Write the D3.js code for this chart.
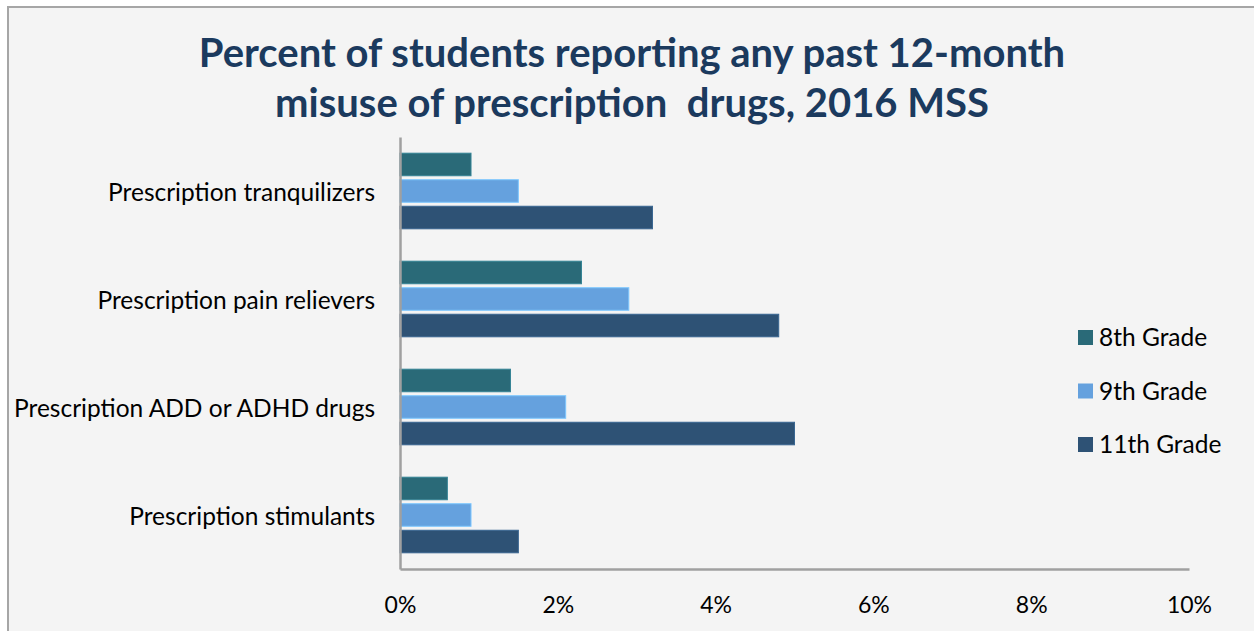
<!DOCTYPE html>
<html>
<head>
<meta charset="utf-8">
<script src="https://cdn.jsdelivr.net/npm/d3@7"></script>
<style>
  body { margin: 0; background: #fff; }
  svg { display: block; }
  text { font-family: Lato, "Open Sans", sans-serif; }
</style>
</head>
<body>
<div id="chart"></div>
<script>
// chart data
var categories = ['Prescription tranquilizers', 'Prescription pain relievers', 'Prescription ADD or ADHD drugs', 'Prescription stimulants'];
var series = ['8th Grade', '9th Grade', '11th Grade'];
var grade8 = [0.9, 2.3, 1.4, 0.6];
var grade9 = [1.5, 2.9, 2.1, 0.9];
var grade11 = [3.2, 4.8, 5.0, 1.5];
var tickValues = [0, 2, 4, 6, 8, 10];
var titleLines = ['Percent of students reporting any past 12-month', 'misuse of prescription  drugs, 2016 MSS'];

var colors = ['#2a6a78', '#65a1de', '#2e5275'];
var values = [grade8, grade9, grade11];

var W = 1254, H = 631;
var svg = d3.select('#chart').append('svg').attr('width', W).attr('height', H);

// chart area background + border
svg.append('rect').attr('x', 8).attr('y', 7).attr('width', W).attr('height', H)
  .attr('fill', '#f4f4f4').attr('stroke', '#a6a6a6').attr('stroke-width', 2);

var title = svg.append('text')
  .attr('text-anchor', 'middle')
  .attr('fill', '#1b3a5e')
  .attr('xml:space', 'preserve')
  .style('font-weight', 'bold')
  .style('font-size', '40px');
title.selectAll('tspan').data(titleLines).enter().append('tspan')
  .attr('x', 632)
  .attr('y', function(d, i) { return 67 + i * 50; })
  .text(function(d) { return d; });

var plotLeft = 400, plotRight = 1189, plotTop = 137, plotBottom = 569;

var x = d3.scaleLinear().domain([0, 10]).range([plotLeft, plotRight]);
var y = d3.scaleBand().domain(categories).range([plotTop, plotBottom]).paddingInner(0.3).paddingOuter(0.15);
var ySub = d3.scaleBand().domain(series).range([0, y.bandwidth()]).paddingInner(0.15);

var groups = svg.append('g').selectAll('g')
  .data(categories).enter().append('g')
  .attr('transform', function(d) { return 'translate(0,' + y(d) + ')'; });

groups.selectAll('rect')
  .data(function(d, ci) {
    return series.map(function(s, si) { return {s: s, si: si, v: values[si][ci]}; });
  })
  .enter().append('rect')
  .attr('x', x(0))
  .attr('y', function(d) { return ySub(d.s); })
  .attr('width', function(d) { return x(d.v) - x(0); })
  .attr('height', ySub.bandwidth())
  .attr('fill', function(d) { return colors[d.si]; })
  .attr('stroke', function(d) { return d3.color(colors[d.si]).brighter(0.6); })
  .attr('stroke-width', 1);

// axes
var xAxis = d3.axisBottom(x).tickValues(tickValues)
  .tickFormat(function(d) { return d + '%'; }).tickSize(0).tickPadding(28);
var gx = svg.append('g').attr('transform', 'translate(0,' + plotBottom + ')').call(xAxis);
gx.select('.domain').attr('stroke', '#a0a0a0').attr('stroke-width', 2.5);
gx.selectAll('text').style('font-size', '23px').attr('fill', '#000').style('font-family', 'Lato, sans-serif');

var yAxis = d3.axisLeft(y).tickSize(0).tickPadding(25);
var gy = svg.append('g').attr('transform', 'translate(' + plotLeft + ',0)').call(yAxis);
gy.select('.domain').attr('stroke', '#a0a0a0').attr('stroke-width', 2.5);
gy.selectAll('text').style('font-size', '24.5px').attr('fill', '#000')
  .attr('dy', '0.42em').style('font-family', 'Lato, sans-serif');

// legend
var legend = svg.append('g').selectAll('g')
  .data(series).enter().append('g')
  .attr('transform', function(d, i) { return 'translate(1078,' + (330 + i * 53.5) + ')'; });
legend.append('rect').attr('width', 15).attr('height', 15)
  .attr('fill', function(d, i) { return colors[i]; });
legend.append('text').attr('x', 21).attr('y', 16)
  .style('font-size', '24.5px').attr('fill', '#000')
  .text(function(d) { return d; });
</script>
</body>
</html>
